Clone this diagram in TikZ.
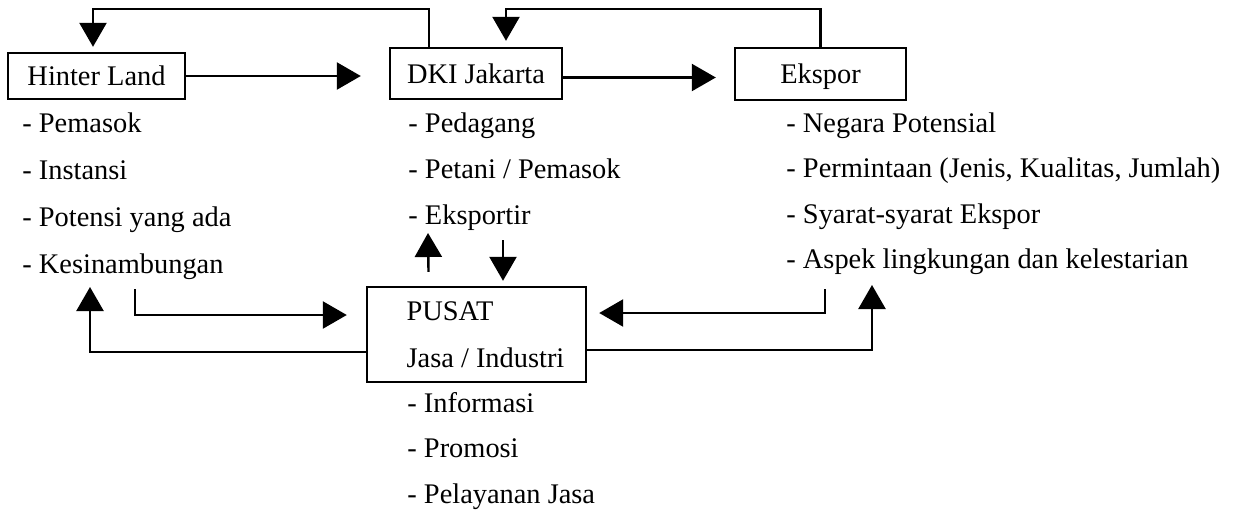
\documentclass[tikz,border=0pt]{standalone}
\usepackage{fontspec}
\setmainfont{Liberation Serif}
\usetikzlibrary{arrows.meta}

\begin{document}
\begin{tikzpicture}[x=0.5pt,y=-0.5pt,
  every node/.style={font=\fontsize{14.2}{23}\selectfont},
  box/.style={draw,line width=1.2pt,inner sep=2pt},
  entry/.style={anchor=base west,inner sep=0pt},
  flow/.style={line width=1.2pt,-{Triangle[length=12pt,width=13.5pt]}}]
\useasboundingbox (0,0) rectangle (1239,515);
%\draw[step=50,help lines] (0,0) grid (1239,515);
\node[box,text depth=0pt,minimum width=88.5pt,minimum height=23pt] (hinter) at (96.5,76) {Hinter Land};
\node[box,text depth=0pt,minimum width=86pt,minimum height=25.5pt] (dki) at (476,73.5) {DKI Jakarta};
\node[box,text depth=0pt,minimum width=85.5pt,minimum height=26pt] (ekspor) at (820.5,74) {Ekspor};
\node[box,minimum width=109.5pt,minimum height=47.5pt,align=left,
  font=\fontsize{14.2}{23.5}\selectfont] (pusat) at (476.5,334.5)
  {\hspace*{9pt}PUSAT\\\hspace*{9pt}Jasa / Industri};
\foreach \t [count=\i] in {Pemasok, Instansi, Potensi yang ada, Kesinambungan}
  \node[entry] (h\i) at (22,{132+47*(\i-1)}) {- \t};
\foreach \t [count=\i] in {Pedagang, Petani / Pemasok, Eksportir}
  \node[entry] (d\i) at (408,{132+46*(\i-1)}) {- \t};
\foreach \t [count=\i] in {Negara Potensial, {Permintaan (Jenis, Kualitas, Jumlah)}, Syarat-syarat Ekspor, Aspek lingkungan dan kelestarian}
  \node[entry] (e\i) at (786,{132+45.5*(\i-1)}) {- \t};
\foreach \t [count=\i] in {Informasi, Promosi, Pelayanan Jasa}
  \node[entry] (p\i) at (407,{412+45.5*(\i-1)}) {- \t};
\draw[flow,shorten >=14pt] (hinter.east) -- (hinter.east -| dki.west);
\coordinate (dk) at ([yshift=-2pt]dki.east);
\draw[flow,shorten >=9pt] (dk) -- (dk -| ekspor.west);
\draw[flow,shorten >=2.5pt] ([xshift=-23.5pt]dki.north) |- ([xshift=-1.75pt,yshift=21.5pt]hinter.north)
  -- ([xshift=-1.75pt]hinter.north);
\draw[flow,shorten >=3pt] (ekspor.north) |- ([xshift=15pt,yshift=19pt]dki.north) -- ([xshift=15pt]dki.north);
\draw[flow] ([xshift=-24pt,yshift=7pt]pusat.north) -- ([xshift=10pt,yshift=-4.5pt]d3.base west);
\draw[flow,shorten >=2.5pt] ([xshift=47.5pt,yshift=-8pt]d3.base west) -- ([xshift=13.25pt]pusat.north);
\draw[flow] ([yshift=-8.75pt]pusat.west) -| ([xshift=34pt,yshift=-7pt]h4.base west);
\draw[flow,shorten >=9.5pt] ([xshift=56.5pt,yshift=-8pt]h4.base west) |- ([yshift=9.75pt]pusat.west);
\draw[flow,shorten >=6pt] ([xshift=19.5pt,yshift=-10.25pt]e4.base west) |- ([yshift=10.75pt]pusat.east);
\draw[flow] ([yshift=-7.75pt]pusat.east) -| ([xshift=43pt,yshift=-8.25pt]e4.base west);
\end{tikzpicture}
\end{document}
